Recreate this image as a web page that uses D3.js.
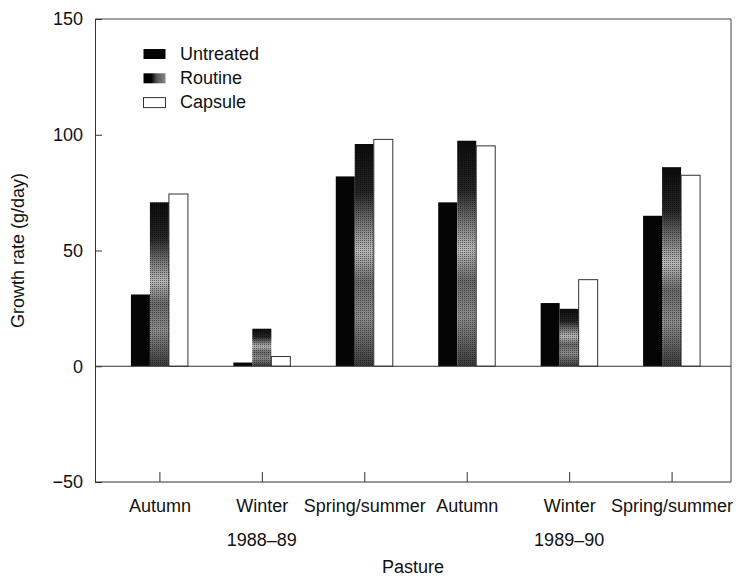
<!DOCTYPE html>
<html>
<head>
<meta charset="utf-8">
<script src="https://cdn.jsdelivr.net/npm/d3@7"></script>
<style>
  body { margin: 0; background: #fff; }
  text { font-family: "Liberation Sans", Arial, Helvetica, sans-serif; fill: #111; }
</style>
</head>
<body>
<div id="chart"></div>
<script>
// values (g/day)
var categories = ["Autumn", "Winter", "Spring/summer", "Autumn", "Winter", "Spring/summer"];
var years = ["1988–89", "1989–90"];
var yearUnder = [1, 4]; // index of the category each year label sits under
var series = ["Untreated", "Routine", "Capsule"];
var untreated = [31, 1.6, 82, 70.8, 27.3, 65];
var routine = [70.8, 16.2, 96, 97.4, 24.8, 86];
var capsule = [74.4, 4.2, 98, 95.2, 37.4, 82.5];
var yTicks = [-50, 0, 50, 100, 150];

var w = 738, h = 577;
// note: "top" is window.top, so keep plot edges under other names
var pLeft = 95, pRight = 731, pTop = 19, pBottom = 482;
var barW = 19;

var svg = d3.select("#chart").append("svg")
  .attr("width", w)
  .attr("height", h);

var defs = svg.append("defs");

// mottled halftone look of the "Routine" bars
var grad = defs.append("linearGradient")
  .attr("id", "routineGrad")
  .attr("x1", 0).attr("y1", 0).attr("x2", 0).attr("y2", 1);
[[0, "#0c0c0c"], [0.22, "#262626"], [0.36, "#777"], [0.48, "#b8b8b8"],
 [0.62, "#6a6a6a"], [0.78, "#8c8c8c"], [1, "#3a3a3a"]].forEach(function (s) {
  grad.append("stop").attr("offset", s[0]).attr("stop-color", s[1]);
});
var dots = defs.append("pattern")
  .attr("id", "dots")
  .attr("width", 2).attr("height", 2)
  .attr("patternUnits", "userSpaceOnUse");
dots.append("rect").attr("width", 1).attr("height", 1).attr("fill", "#000").attr("opacity", 0.45);

var legGrad = defs.append("linearGradient")
  .attr("id", "routineLeg")
  .attr("x1", 0).attr("y1", 0).attr("x2", 1).attr("y2", 0);
legGrad.append("stop").attr("offset", 0.35).attr("stop-color", "#000");
legGrad.append("stop").attr("offset", 0.6).attr("stop-color", "#555");
legGrad.append("stop").attr("offset", 1).attr("stop-color", "#888");

var x = d3.scalePoint()
  .domain(d3.range(categories.length))
  .range([100, pRight])
  .padding(0.58);

var x1 = d3.scaleBand()
  .domain(series)
  .range([-1.5 * barW, 1.5 * barW]);

var y = d3.scaleLinear()
  .domain([-50, 150])
  .range([pBottom, pTop]);

var values = { Untreated: untreated, Routine: routine, Capsule: capsule };
var rows = [];
categories.forEach(function (c, i) {
  series.forEach(function (s) {
    rows.push({ i: i, s: s, v: values[s][i] });
  });
});

// frame
svg.append("line").attr("x1", pLeft).attr("x2", pRight).attr("y1", pTop).attr("y2", pTop)
  .attr("stroke", "#444");
svg.append("line").attr("x1", pRight).attr("x2", pRight).attr("y1", pTop).attr("y2", pBottom)
  .attr("stroke", "#444");

// bars
var bars = svg.append("g");
bars.selectAll(".bar")
  .data(rows)
  .enter()
  .append("rect")
  .attr("class", "bar")
  .attr("x", (d) => x(d.i) + x1(d.s))
  .attr("width", x1.bandwidth())
  .attr("y", (d) => y(Math.max(0, d.v)))
  .attr("height", (d) => Math.abs(y(d.v) - y(0)))
  .attr("fill", (d) => d.s == "Untreated" ? "#050505" : d.s == "Routine" ? "url(#routineGrad)" : "#fff")
  .attr("stroke", (d) => d.s == "Capsule" ? "#333" : "none")
  .attr("stroke-width", 1);
bars.selectAll(".dot")
  .data(rows.filter((d) => d.s == "Routine"))
  .enter()
  .append("rect")
  .attr("x", (d) => x(d.i) + x1(d.s))
  .attr("width", x1.bandwidth())
  .attr("y", (d) => y(d.v))
  .attr("height", (d) => y(0) - y(d.v))
  .attr("fill", "url(#dots)");

// zero line
svg.append("line").attr("x1", pLeft).attr("x2", pRight).attr("y1", y(0)).attr("y2", y(0))
  .attr("stroke", "#333");

// y axis
var yAxis = svg.append("g")
  .attr("transform", "translate(" + pLeft + ",0)")
  .call(d3.axisLeft(y).tickValues(yTicks).tickSize(-7).tickPadding(12)
    .tickFormat((d) => d < 0 ? "\u2212" + Math.abs(d) : d));
yAxis.select(".domain").attr("stroke", "#333");
yAxis.selectAll(".tick line").attr("stroke", "#333");
yAxis.selectAll("text").style("font-size", "18px").attr("fill", "#111");

// x axis
var xAxis = svg.append("g")
  .attr("transform", "translate(0," + pBottom + ")")
  .call(d3.axisBottom(x).tickSize(-10).tickPadding(17)
    .tickFormat((i) => categories[i]));
xAxis.select(".domain").attr("d", "M" + pLeft + ",0H" + pRight).attr("stroke", "#333");
xAxis.selectAll(".tick line").attr("stroke", "#333");
xAxis.selectAll("text").style("font-size", "18px").attr("fill", "#111");

// year labels
svg.append("g").selectAll(".year")
  .data(years)
  .enter()
  .append("text")
  .attr("class", "year")
  .attr("x", (d, k) => x(yearUnder[k]))
  .attr("y", 546)
  .attr("text-anchor", "middle")
  .style("font-size", "18px")
  .text((d) => d);

// axis titles
svg.append("text")
  .attr("x", (pLeft + pRight) / 2)
  .attr("y", 573)
  .attr("text-anchor", "middle")
  .style("font-size", "18px")
  .text("Pasture");

svg.append("text")
  .attr("transform", "translate(24," + (pTop + pBottom) / 2 + ") rotate(-90)")
  .attr("text-anchor", "middle")
  .style("font-size", "18px")
  .text("Growth rate (g/day)");

// legend
var legend = svg.append("g").selectAll(".leg")
  .data(series)
  .enter()
  .append("g")
  .attr("class", "leg")
  .attr("transform", (d, k) => "translate(143," + (59.5 + k * 24.3) + ")");
legend.append("rect")
  .attr("x", 0.5)
  .attr("y", -10.5)
  .attr("width", 22)
  .attr("height", 10)
  .attr("fill", (d) => d == "Untreated" ? "#050505" : d == "Routine" ? "url(#routineLeg)" : "#fff")
  .attr("stroke", (d) => d == "Capsule" ? "#333" : "none");
legend.append("text")
  .attr("x", 37)
  .attr("y", 0)
  .style("font-size", "18px")
  .text((d) => d);
</script>
</body>
</html>
